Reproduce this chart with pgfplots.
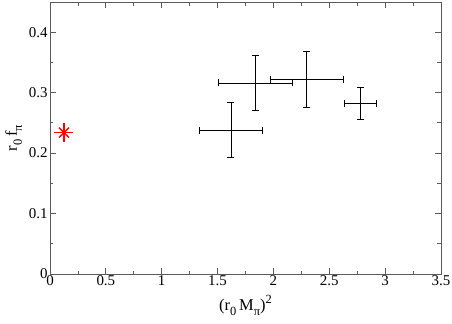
\documentclass[border=0pt]{standalone}
\usepackage{fontspec}
\setmainfont{Liberation Serif}
\usepackage{pgfplots}
\pgfplotsset{compat=1.18}
\usetikzlibrary{calc}
\definecolor{axgray}{RGB}{90,90,90}
\newcommand{\sub}[1]{\raisebox{-5bp}{\fontsize{12.5}{13}\selectfont #1}}
\newcommand{\super}[1]{\raisebox{7bp}{\fontsize{12.5}{13}\selectfont #1}}
\begin{document}
\begin{tikzpicture}
\begin{axis}[
  scale only axis,
  width=391bp, height=272bp,
  xmin=0, xmax=3.5, ymin=0, ymax=0.45,
  xtick={0,0.5,...,3.5},
  ytick={0,0.1,0.2,0.3,0.4},
  minor x tick num=1,
  minor y tick num=1,
  tick align=inside,
  major tick length=6bp,
  minor tick length=3.5bp,
  axis line style={axgray, line width=1pt},
  every tick/.style={axgray, line width=0.8pt},
  tick label style={font=\fontsize{15}{17}\selectfont},
  /pgf/number format/assume math mode=true,
  xticklabel style={yshift=2bp},
  yticklabel style={xshift=1bp},
  xlabel={(r\sub{0}\,M\sub{π})\super{2}},
  ylabel={r\sub{0}\,f\sub{π}},
  xlabel style={font=\fontsize{16.5}{18}\selectfont, yshift=-3bp},
  ylabel style={font=\fontsize{16.5}{18}\selectfont, yshift=0bp},
]
\addplot[draw=none, mark=none,
  error bars/.cd, x dir=both, x explicit, y dir=both, y explicit,
  error mark options={rotate=90, mark size=3.5bp, draw=black, line width=0.9pt},
  error bar style={draw=black, line width=0.9pt}]
  table[x=x, y=y, x error=ex, y error=ey] {
x     y      ex    ey
1.62  0.238  0.28  0.045
1.84  0.316  0.33  0.045
2.30  0.322  0.33  0.046
2.78  0.282  0.14  0.026
};
\addplot[red, only marks, mark=+, mark size=9.5bp, mark options={line width=1.4pt}]
  coordinates {(0.125,0.234)};
\addplot[red, only marks, mark=x, mark size=7bp, mark options={line width=1.4pt}]
  coordinates {(0.125,0.234)};
\end{axis}
\pgfresetboundingbox
\path ($(current axis.south west)+(-50bp,-50bp)$) rectangle ($(current axis.north east)+(11bp,2bp)$);
\end{tikzpicture}
\end{document}
